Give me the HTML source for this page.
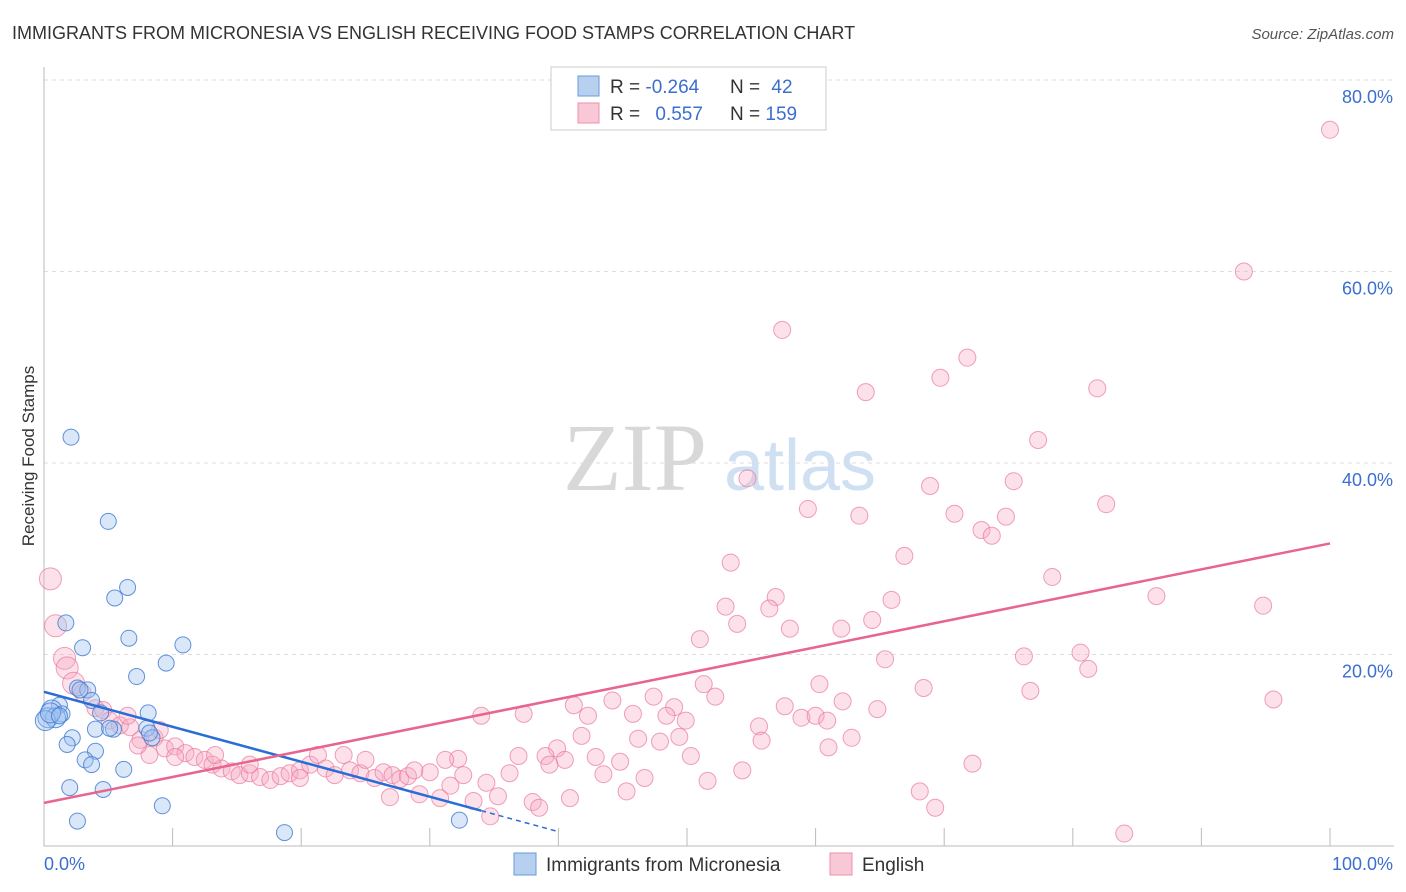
<!DOCTYPE html>
<html><head><meta charset="utf-8"><style>
body{margin:0;background:#fff;font-family:"Liberation Sans",sans-serif;}
svg{display:block}
</style></head><body>
<svg id="chart" width="1406" height="892" xmlns="http://www.w3.org/2000/svg">
<text x="12" y="39" font-size="18" fill="#333">IMMIGRANTS FROM MICRONESIA VS ENGLISH RECEIVING FOOD STAMPS CORRELATION CHART</text>
<text x="1394" y="39" font-size="15" fill="#555" font-style="italic" text-anchor="end">Source: ZipAtlas.com</text>
<g>
<text x="635" y="490" font-size="96" fill="#d8d8d8" font-family="Liberation Serif,serif" text-anchor="middle">ZIP</text>
<text x="800" y="490" font-size="72" fill="#cfe0f3" text-anchor="middle">atlas</text>
</g>
<g id="grid"></g>
<g id="axes"></g>
<text transform="translate(34,456) rotate(-90)" font-size="17" fill="#333" text-anchor="middle">Receiving Food Stamps</text>
<g id="pts"></g>
<g id="trends"></g>
<g>
<rect x="551" y="67" width="275" height="63" fill="#fff" stroke="#ccc"/>
<rect x="578" y="76" width="21" height="20" fill="#b8d0f0" stroke="#6a9ad8"/>
<rect x="578" y="103" width="21" height="20" fill="#f9c8d6" stroke="#ee90ac"/>
<text x="610" y="93" font-size="19" fill="#333">R = <tspan fill="#3a6fd0">-0.264</tspan></text>
<text x="730" y="93" font-size="19" fill="#333">N = <tspan fill="#3a6fd0" dx="6">42</tspan></text>
<text x="610" y="120" font-size="19" fill="#333">R = <tspan fill="#3a6fd0" dx="10">0.557</tspan></text>
<text x="730" y="120" font-size="19" fill="#333">N = <tspan fill="#3a6fd0">159</tspan></text>
</g>
<g>
<rect x="514" y="853" width="22" height="22" fill="#b8d0f0" stroke="#6a9ad8"/>
<text x="546" y="871" font-size="19" fill="#333">Immigrants from Micronesia</text>
<rect x="830" y="853" width="22" height="22" fill="#f9c8d6" stroke="#ee90ac"/>
<text x="862" y="871" font-size="19" fill="#333">English</text>
</g>
</svg>
<script>
const yTicks=[20,40,60,80];
const yTickLabels=["20.0%","40.0%","60.0%","80.0%"];
const xTicks=[0,10,20,30,40,50,60,70,80,90,100];
const blueX=[2.1,5.0,6.5,5.5,1.7,6.6,10.8,3.0,9.5,7.2,2.6,3.4,3.7,1.2,0.6,0.3,1.4,8.1,4.4,8.0,5.4,8.4,2.2,1.8,4.0,3.2,3.7,6.2,2.0,4.6,9.2,2.6,18.7,32.3,0.9,0.1,0.5,4.0,8.2,1.2,2.8,5.1];
const blueY=[42.7,33.9,27.0,25.9,23.3,21.7,21.0,20.7,19.1,17.7,16.5,16.3,15.2,14.7,14.2,13.4,13.8,13.9,13.9,12.3,12.2,11.3,11.3,10.6,9.9,9.0,8.5,8.0,6.1,5.9,4.2,2.6,1.4,2.7,13.4,13.1,13.9,12.2,11.8,13.6,16.3,12.3];
const pinkX=[100,93.3,57.4,71.8,69.7,63.9,81.9,77.3,54.7,75.4,68.9,82.6,59.4,63.4,70.8,74.8,72.9,73.7,66.9,53.4,78.4,56.9,86.5,65.9,53.0,56.4,94.8,64.4,53.9,62.0,58.0,51.0,76.2,80.6,65.4,81.2,60.3,51.3,68.4,76.7,52.2,47.4,44.2,95.6,62.1,41.2,57.6,64.8,49.0,42.3,45.8,34.0,37.3,58.9,60.0,48.4,49.9,60.9,55.6,41.8,46.2,49.4,47.9,62.8,55.8,61.0,39.9,36.9,39.0,42.9,50.3,32.2,40.5,39.3,44.8,72.2,54.3,43.5,46.7,36.2,51.6,34.4,45.3,68.1,35.3,40.9,38.0,38.5,69.3,33.4,34.7,84.0,32.6,30.0,
0.5,0.9,1.6,1.8,2.3,3.0,4.0,4.6,5.1,5.9,6.7,7.5,8.6,9.4,10.2,11.0,11.7,12.5,13.1,13.8,14.6,15.2,16.0,16.8,17.6,18.4,19.1,19.9,20.7,21.3,21.9,22.6,23.3,23.8,24.6,25.0,25.7,26.4,27.1,27.7,28.3,28.8,26.9,29.2,30.8,31.2,6.5,9.0,10.2,13.3,16.0,19.9,31.6,8.2,7.3];
const pinkY=[74.8,60.0,53.9,51.0,48.9,47.4,47.8,42.4,38.4,38.1,37.6,35.7,35.2,34.5,34.7,34.4,33.0,32.4,30.3,29.6,28.1,26.0,26.1,25.7,25.0,24.8,25.1,23.6,23.2,22.7,22.7,21.6,19.8,20.2,19.5,18.5,16.9,16.9,16.5,16.2,15.6,15.6,15.2,15.3,15.1,14.7,14.6,14.3,14.5,13.6,13.8,13.6,13.8,13.4,13.6,13.6,13.1,13.1,12.5,11.5,11.2,11.4,10.9,11.3,11.0,10.3,10.2,9.4,9.4,9.3,9.4,9.1,9.0,8.5,8.8,8.6,7.9,7.5,7.1,7.6,6.8,6.6,5.7,5.7,5.2,5.0,4.6,4.0,4.0,4.7,3.1,1.3,7.4,7.7,
27.9,23.0,19.6,18.6,17.0,16.0,14.4,14.2,13.1,12.6,12.4,11.1,11.3,10.2,10.4,9.7,9.3,9.0,8.5,8.1,7.8,7.4,7.6,7.2,6.9,7.3,7.6,7.9,8.5,9.5,8.1,7.4,9.5,7.9,7.6,9.0,7.1,7.7,7.4,7.0,7.3,7.9,5.1,5.4,5.0,9.0,13.6,12.1,9.3,9.5,8.5,7.1,6.3,9.5,10.5];
const blueTrend=[[0,16.1],[40,1.5]];
const pinkTrend=[[0,4.5],[100,31.6]];
const NS="http://www.w3.org/2000/svg";
const X0=44,X1=1330,Y0=846,Y80=80;
const sx=v=>X0+(X1-X0)*v/100;
const sy=v=>Y0-(Y0-Y80)*v/80;
function mk(tag,attrs,parent){const e=document.createElementNS(NS,tag);for(const k in attrs)e.setAttribute(k,attrs[k]);parent.appendChild(e);return e;}
const grid=document.getElementById('grid'),axes=document.getElementById('axes');
yTicks.forEach((t,i)=>{
 const l=mk('line',{x1:X0,x2:1394,y1:sy(t),y2:sy(t),stroke:'#ddd','stroke-dasharray':'4,4'},grid);
 
 
 const tx=mk('text',{x:1393,y:sy(t)+23,'font-size':18,fill:'#3a6fd0','text-anchor':'end'},grid);
 tx.textContent=yTickLabels[i];
 
 
});
const ax=mk('path',{d:`M${X0},67V${Y0}H1394`,stroke:'#bbb',fill:'none'},axes);


xTicks.forEach(t=>{
 const l=mk('line',{x1:sx(t),x2:sx(t),y1:828,y2:Y0,stroke:'#bbb'},axes);
 
 
});
const xl0=mk('text',{x:44,y:870,'font-size':18,fill:'#3a6fd0'},axes);xl0.textContent='0.0%';


const xl1=mk('text',{x:1393,y:870,'font-size':18,fill:'#3a6fd0','text-anchor':'end'},axes);xl1.textContent='100.0%';


const pts=document.getElementById('pts');
pinkX.forEach((x,i)=>{
 const c=mk('circle',{cx:sx(x),cy:sy(pinkY[i]),r:x<3?11:8.5,fill:'rgba(247,170,195,0.35)',stroke:'rgba(235,120,155,0.7)','stroke-width':1},pts);
 
 
});
blueX.forEach((x,i)=>{
 const c=mk('circle',{cx:sx(x),cy:sy(blueY[i]),r:x<1?10:8,fill:'rgba(160,195,240,0.4)',stroke:'rgba(60,120,210,0.8)','stroke-width':1},pts);
 
 
});
const tr=document.getElementById('trends');
const bSolidEnd=0.85*(blueTrend[1][0]-blueTrend[0][0])+blueTrend[0][0];
const bY=x=>blueTrend[0][1]+(blueTrend[1][1]-blueTrend[0][1])*(x-blueTrend[0][0])/(blueTrend[1][0]-blueTrend[0][0]);
const b1=mk('line',{x1:sx(blueTrend[0][0]),y1:sy(blueTrend[0][1]),x2:sx(bSolidEnd),y2:sy(bY(bSolidEnd)),stroke:'#2a6dd6','stroke-width':2.5},tr);


const b2=mk('line',{x1:sx(bSolidEnd),y1:sy(bY(bSolidEnd)),x2:sx(blueTrend[1][0]),y2:sy(blueTrend[1][1]),stroke:'#2a6dd6','stroke-width':1.5,'stroke-dasharray':'5,4'},tr);


const p1=mk('line',{x1:sx(pinkTrend[0][0]),y1:sy(pinkTrend[0][1]),x2:sx(pinkTrend[1][0]),y2:sy(pinkTrend[1][1]),stroke:'#e8658d','stroke-width':2.5},tr);


</script>
</body></html>
